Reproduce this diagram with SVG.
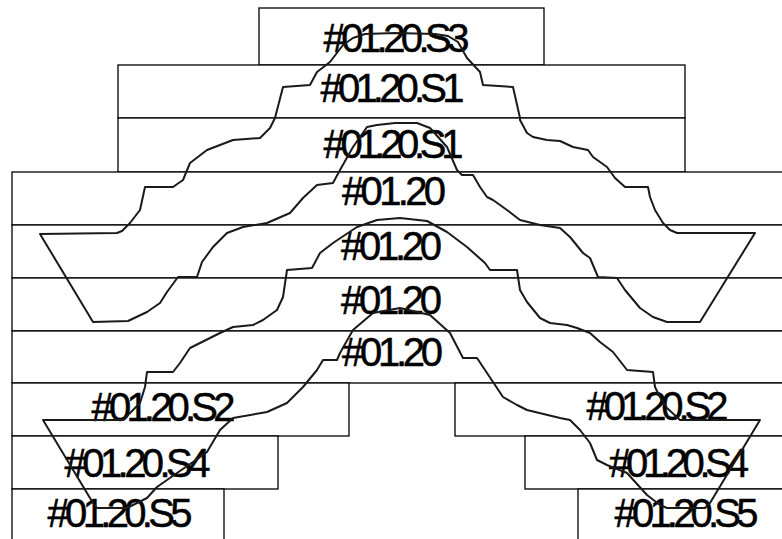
<svg xmlns="http://www.w3.org/2000/svg" width="782" height="539" viewBox="0 0 782 539">
<style>
.box{fill:#fff;stroke:#000;stroke-width:1.3}
.lbl{font-family:"Liberation Sans",Arial,sans-serif;font-size:40px;fill:#000;stroke:#000;stroke-width:0.5;text-anchor:middle}
.edge{fill:none;stroke:#1a1a1a;stroke-width:2;stroke-linejoin:round;stroke-linecap:round}
</style>
<rect width="782" height="539" fill="#fff"/>
<g id="n-s3"><rect class="box" x="259" y="8" width="285" height="57"/><text class="lbl" x="396.5" y="52" textLength="146" lengthAdjust="spacing">#01.20.S3</text></g>
<g id="n-s1a"><rect class="box" x="118" y="65" width="567" height="53"/><text class="lbl" x="392.5" y="102" textLength="144" lengthAdjust="spacing">#01.20.S1</text></g>
<g id="n-s1b"><rect class="box" x="118" y="118" width="567" height="54"/><text class="lbl" x="393.5" y="158" textLength="140" lengthAdjust="spacing">#01.20.S1</text></g>
<g id="n-r4"><rect class="box" x="12" y="172" width="800" height="53"/><text class="lbl" x="394" y="205" textLength="104" lengthAdjust="spacing">#01.20</text></g>
<g id="n-r5"><rect class="box" x="12" y="225" width="800" height="53"/><text class="lbl" x="391.5" y="260" textLength="101" lengthAdjust="spacing">#01.20</text></g>
<g id="n-r6"><rect class="box" x="12" y="278" width="800" height="53"/><text class="lbl" x="391.5" y="314" textLength="101" lengthAdjust="spacing">#01.20</text></g>
<g id="n-r7"><rect class="box" x="12" y="331" width="800" height="52"/><text class="lbl" x="392.5" y="366" textLength="101" lengthAdjust="spacing">#01.20</text></g>
<g id="n-s2l"><rect class="box" x="12" y="383" width="337" height="53"/><text class="lbl" x="163.5" y="421" textLength="144" lengthAdjust="spacing">#01.20.S2</text></g>
<g id="n-s2r"><rect class="box" x="455" y="383" width="357" height="53"/><text class="lbl" x="657.5" y="420" textLength="142" lengthAdjust="spacing">#01.20.S2</text></g>
<g id="n-s4l"><rect class="box" x="12" y="436" width="266" height="53"/><text class="lbl" x="137.5" y="477" textLength="146" lengthAdjust="spacing">#01.20.S4</text></g>
<g id="n-s4r"><rect class="box" x="525" y="436" width="287" height="53"/><text class="lbl" x="679" y="477" textLength="140" lengthAdjust="spacing">#01.20.S4</text></g>
<g id="n-s5l"><rect class="box" x="12" y="489" width="212" height="60"/><text class="lbl" x="120" y="527" textLength="145" lengthAdjust="spacing">#01.20.S5</text></g>
<g id="n-s5r"><rect class="box" x="578" y="489" width="234" height="60"/><text class="lbl" x="686.5" y="527" textLength="144" lengthAdjust="spacing">#01.20.S5</text></g>
<g id="connectors">
<path class="edge" d="M343,45 L353,38 L365,34 L395,33 L435,34 L448,36 L458,42 L467,58 L480,72 L483,85 L513,87 L520,118 L520,120 L527,133 L533,137 L547,140 L560,141 L573,147 L588,150 L593,157 L607,167 L615,178 L625,187 L648,187 L650,197 L655,210 L663,223 L670,230 L677,233 L755,233 L700,322 L667,322 L653,317 L640,308 L625,290 L617,278 L598,277 L590,258 L583,253 L570,237 L560,228 L540,225 L520,220 L507,210 L493,200 L487,197 L480,187 L473,175 L462,175 L457,170 L447,147 L430,128 L417,123 L395,123 L377,125 L367,127 L353,147 L340,170 L333,183 L317,185 L303,198 L290,213 L267,223 L243,227 L227,233 L213,247 L202,262 L197,277 L178,277 L167,292 L160,303 L147,312 L128,321 L93,322 L40,234 L117,233 L122,231 L130,223 L140,210 L145,187 L173,187 L183,180 L190,163 L207,150 L233,140 L260,138 L270,128 L275,118 L283,87 L310,85 L317,72 L330,62 Z"/>
<path class="edge" d="M357,227 L377,220 L400,218 L427,221 L447,232 L467,247 L485,263 L490,270 L517,270 L520,290 L527,302 L540,318 L550,323 L567,325 L577,328 L590,333 L600,342 L613,352 L627,370 L653,372 L655,387 L660,397 L667,408 L680,420 L760,420 L710,503 L705,508 L667,508 L660,505 L647,495 L627,473 L607,465 L597,460 L590,443 L580,430 L570,420 L560,418 L527,410 L517,405 L503,397 L487,373 L477,358 L463,358 L450,333 L430,315 L400,308 L373,313 L353,330 L340,353 L337,360 L323,360 L317,370 L303,387 L287,403 L267,412 L233,418 L220,430 L207,452 L193,462 L177,473 L157,487 L147,498 L127,508 L97,508 L93,503 L43,420 L123,420 L133,410 L140,403 L145,387 L147,372 L173,372 L180,363 L190,348 L200,343 L220,333 L233,327 L253,325 L263,320 L277,310 L283,297 L287,270 L312,268 L320,253 L333,243 Z"/>
</g>
</svg>
